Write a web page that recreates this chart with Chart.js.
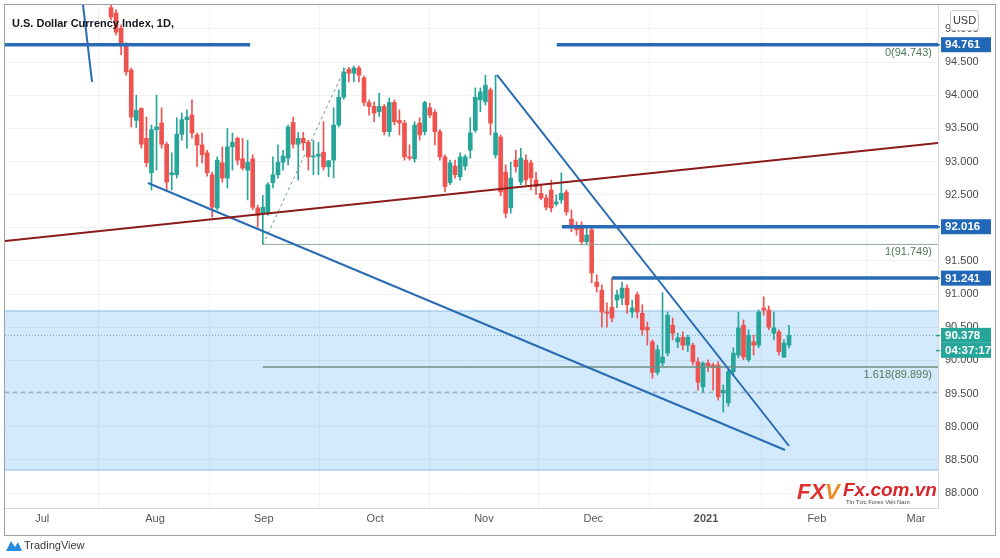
<!DOCTYPE html>
<html>
<head>
<meta charset="utf-8">
<script src="https://cdn.jsdelivr.net/npm/chart.js@4.4.1/dist/chart.umd.min.js"></script>
<style>
  html, body { margin: 0; padding: 0; background: #fff; }
  #wrap { width: 1000px; height: 558px; }
</style>
</head>
<body>
<div id="wrap"><canvas id="chart" width="1000" height="558"></canvas></div>
<script>
// DXY daily candles, bar 0 = first visible bar (late Jul 2020), last bar = 25 Jan 2021
const opens = [
  95.32, 95.24, 95.01, 94.76, 94.38, 93.62, 93.80, 93.35, 92.83, 93.48,
  93.58, 93.26, 92.80, 92.80, 93.41, 93.63, 93.70, 93.40, 93.25, 93.13,
  92.80, 92.30, 92.98, 92.75, 93.22, 93.35, 93.04, 92.87, 93.04, 92.30,
  92.22, 92.22, 92.68, 92.80, 92.99, 93.05, 93.59, 93.26, 93.35, 93.29,
  93.07, 93.08, 93.14, 92.92, 93.02, 93.55, 93.97, 94.39, 94.33, 94.41,
  94.26, 93.89, 93.83, 93.75, 93.83, 93.45, 93.89, 93.62, 93.58, 93.07,
  93.04, 93.58, 93.45, 93.81, 93.74, 93.45, 93.07, 92.68, 92.93, 92.77,
  92.93, 93.17, 93.47, 93.93, 93.90, 94.08, 93.10, 93.37, 92.84, 92.30,
  93.02, 92.69, 93.02, 92.98, 92.72, 92.52, 92.45, 92.57, 92.36, 92.42,
  92.54, 92.13, 92.01, 92.04, 91.79, 91.97, 91.18, 91.06, 90.73, 90.80,
  90.91, 90.94, 91.09, 90.73, 90.99, 90.71, 90.50, 90.28, 89.82, 89.96,
  90.11, 90.53, 90.28, 90.35, 90.23, 90.23, 89.98, 89.60, 89.96, 89.93,
  89.93, 89.51, 89.36, 89.83, 90.08, 90.53, 90.01, 90.28, 90.23, 90.79,
  90.76, 90.41, 90.43, 90.05, 90.23
];
const highs = [
  95.41, 95.29, 95.06, 94.79, 94.41, 94.00, 93.81, 93.67, 93.55, 94.00,
  93.81, 93.29, 93.13, 93.66, 93.73, 93.78, 93.93, 93.43, 93.43, 93.17,
  92.84, 93.07, 93.22, 93.50, 93.43, 93.37, 93.35, 93.32, 93.10, 92.34,
  92.49, 92.68, 93.07, 93.25, 93.17, 93.55, 93.67, 93.44, 93.44, 93.32,
  93.32, 93.29, 93.60, 93.02, 93.81, 94.08, 94.41, 94.42, 94.44, 94.44,
  94.29, 93.93, 93.90, 94.03, 93.86, 93.96, 93.93, 93.78, 93.62, 93.25,
  93.60, 93.66, 93.91, 93.88, 93.78, 93.48, 93.10, 93.02, 93.02, 93.13,
  93.10, 93.66, 94.11, 94.11, 94.30, 94.11, 94.30, 93.40, 92.95, 92.99,
  93.17, 93.20, 93.10, 93.02, 92.84, 92.65, 92.50, 92.72, 92.50, 92.83,
  92.57, 92.27, 92.09, 92.09, 92.00, 92.00, 91.29, 91.14, 90.87, 91.241,
  91.06, 91.18, 91.14, 90.91, 91.03, 90.84, 90.58, 90.31, 90.23, 91.02,
  90.73, 90.64, 90.41, 90.43, 90.38, 90.26, 90.04, 89.98, 90.01, 89.96,
  89.98, 89.63, 89.89, 90.19, 90.73, 90.61, 90.46, 90.38, 90.76, 90.96,
  90.82, 90.73, 90.46, 90.31, 90.53
];
const lows = [
  95.14, 94.91, 94.61, 94.30, 93.52, 93.51, 93.20, 92.92, 92.57, 92.87,
  93.20, 92.57, 92.57, 92.75, 93.32, 93.20, 93.35, 92.92, 92.98, 92.78,
  92.16, 92.27, 92.69, 92.60, 92.87, 92.95, 92.87, 92.42, 92.27, 92.01,
  91.749, 92.19, 92.60, 92.75, 92.87, 92.95, 93.20, 92.72, 93.17, 92.87,
  92.80, 92.80, 92.87, 92.77, 92.75, 93.52, 93.94, 94.20, 94.20, 94.20,
  93.84, 93.70, 93.60, 93.68, 93.40, 93.38, 93.55, 93.40, 93.02, 93.02,
  92.99, 93.32, 93.40, 93.66, 93.25, 93.02, 92.54, 92.65, 92.75, 92.72,
  92.87, 93.05, 93.44, 93.75, 93.85, 93.40, 93.05, 92.48, 92.15, 92.22,
  92.84, 92.65, 92.65, 92.57, 92.50, 92.42, 92.27, 92.24, 92.33, 92.37,
  92.19, 91.94, 91.89, 91.74, 91.74, 91.17, 91.03, 90.50, 90.50, 90.58,
  90.79, 90.84, 90.71, 90.65, 90.64, 90.38, 90.23, 89.73, 89.78, 89.92,
  90.07, 90.31, 90.19, 90.16, 90.13, 89.93, 89.55, 89.52, 89.83, 89.55,
  89.40, 89.22, 89.31, 89.78, 90.04, 90.01, 89.98, 90.08, 90.19, 90.68,
  90.46, 90.31, 90.08, 90.04, 90.19
];
const closes = [
  95.18, 94.95, 94.79, 94.35, 93.67, 93.77, 93.26, 92.98, 93.48, 93.52,
  93.26, 92.69, 92.83, 93.41, 93.63, 93.67, 93.43, 93.25, 93.10, 92.83,
  92.31, 93.02, 92.75, 93.22, 93.29, 93.02, 92.90, 92.99, 92.31, 92.19,
  92.31, 92.65, 92.80, 92.99, 93.08, 93.52, 93.26, 93.35, 93.28, 93.07,
  93.08, 93.11, 92.92, 93.01, 93.55, 93.97, 94.35, 94.33, 94.41, 94.30,
  93.89, 93.83, 93.73, 93.83, 93.45, 93.89, 93.60, 93.58, 93.07, 93.05,
  93.55, 93.40, 93.89, 93.70, 93.45, 93.07, 92.62, 92.98, 92.80, 93.07,
  93.07, 93.43, 93.97, 94.05, 94.15, 93.58, 93.43, 92.54, 92.22, 92.75,
  92.92, 93.05, 92.72, 92.75, 92.62, 92.45, 92.31, 92.30, 92.39, 92.52,
  92.24, 92.01, 91.97, 91.79, 91.89, 91.32, 91.11, 90.73, 90.71, 90.64,
  90.99, 91.09, 90.84, 90.79, 90.73, 90.46, 90.46, 89.82, 90.16, 90.05,
  90.68, 90.41, 90.34, 90.23, 90.35, 89.98, 89.67, 89.96, 89.92, 89.89,
  89.45, 89.55, 89.83, 90.11, 90.49, 90.05, 90.38, 90.23, 90.73, 90.76,
  90.50, 90.49, 90.13, 90.26, 90.378
];

// time axis (bar index units)
const xMin = -20.95, xMax = 163.44;
const monthTickPos = [-13.6, 8.7, 30.2, 52.2, 73.7, 95.3, 117.6, 139.5, 159.1];
const monthTickLabels = ["Jul", "Aug", "Sep", "Oct", "Nov", "Dec", "2021", "Feb", "Mar"];

// price axis
const yMin = 87.774, yMax = 95.36;
const priceTicks = [88, 88.5, 89, 89.5, 90, 90.5, 91, 91.5, 92, 92.5, 93, 93.5, 94, 94.5, 95];

// drawings
const levelValues = [94.761, 92.016, 91.241];
const levelStarts = [88.1, 89.1, 99];
const leftLevelEnd = 27.5;
const fibValues = [94.743, 91.749, 89.899];
const fibLabels = ["0(94.743)", "1(91.749)", "1.618(89.899)"];
const fibStart = 30;
const zoneTop = 90.745, zoneBottom = 88.347;
const dashedLevel = 89.52;
const lastPrice = 90.378;
const countdown = "04:37:17";
const redTrend = [[xMin, 91.80], [xMax, 93.28]];
const wedgeLow = [[7.31, 92.676], [133.2, 88.649]];
const wedgeHigh = [[76.28, 94.306], [134.0, 88.709]];
const oldTrend = [[-5.53, 95.36], [-3.75, 94.20]];
const fibConnector = [[30.04, 91.749], [46.25, 94.41]];

const UP = "#26a69a", DOWN = "#ef5350", BLUE = "#2a6cb4";
const FONT = "'Liberation Sans', Arial, sans-serif";

const candleColors = closes.map((c, i) => c >= opens[i] ? UP : DOWN);

function seg(points, color, width, dash, order, extra) {
  return Object.assign({
    type: "line",
    data: points.map(p => ({ x: p[0], y: p[1] })),
    borderColor: color,
    borderWidth: width,
    borderDash: dash || [],
    pointRadius: 0,
    fill: false,
    tension: 0,
    order: order
  }, extra || {});
}

const datasets = [
  // zone box
  seg([[xMin, zoneTop], [xMax, zoneTop]], "#8dbbe3", 1, null, 20,
      { fill: { value: zoneBottom }, backgroundColor: "rgba(33,150,243,0.2)" }),
  seg([[xMin, zoneBottom], [xMax, zoneBottom]], "#8dbbe3", 1, null, 19),
  seg([[xMin, dashedLevel], [xMax, dashedLevel]], "#7f98b0", 1, [4, 4], 18),
  seg([[xMin, lastPrice], [xMax, lastPrice]], "#6aa8a0", 1, [1, 2], 18),
  // candles
  {
    type: "bar",
    data: lows.map((l, i) => ({ x: i, y: [l, highs[i]] })),
    backgroundColor: candleColors,
    barThickness: 1,
    grouped: false,
    order: 6
  },
  {
    type: "bar",
    data: opens.map((o, i) => ({ x: i, y: [o, closes[i]] })),
    backgroundColor: candleColors,
    barThickness: 4,
    minBarLength: 1,
    grouped: false,
    order: 5
  },
  // fib lines
  seg([[fibStart, fibValues[1]], [xMax, fibValues[1]]], "#8fa89a", 1, null, 3),
  seg([[fibStart, fibValues[2]], [xMax, fibValues[2]]], "#6f8f80", 1.5, null, 3),
  seg(fibConnector, "#7a9a85", 1, [3, 3], 3),
  // trend lines
  seg(redTrend, "#8b1c1c", 2, null, 2),
  seg(wedgeLow, BLUE, 2, null, 2),
  seg(wedgeHigh, BLUE, 2, null, 2),
  seg(oldTrend, BLUE, 2, null, 2),
  // horizontal levels
  seg([[xMin, levelValues[0]], [leftLevelEnd, levelValues[0]]], BLUE, 3.5, null, 1)
];
levelValues.forEach((v, i) => {
  datasets.push(seg([[levelStarts[i], v], [xMax, v]], BLUE, 3.5, null, 1));
});

const overlay = {
  id: "overlay",
  afterDraw(chart) {
    const ctx = chart.ctx;
    const ys = chart.scales.y;
    const area = chart.chartArea;
    ctx.save();

    // title
    ctx.fillStyle = "#131722";
    ctx.font = "bold 11px " + FONT;
    ctx.textBaseline = "middle";
    ctx.textAlign = "left";
    ctx.fillText("U.S. Dollar Currency Index, 1D,", 12, 24);

    // fib labels
    ctx.font = "11px " + FONT;
    ctx.fillStyle = "#4f7a58";
    ctx.textAlign = "right";
    ctx.textBaseline = "top";
    fibValues.forEach((v, i) => {
      ctx.fillText(fibLabels[i], area.right - 6, ys.getPixelForValue(v) + 2);
    });

    // price boxes on the axis
    function box(v, text, color, dy) {
      const y = ys.getPixelForValue(v) + (dy || 0);
      ctx.fillStyle = color;
      ctx.fillRect(area.right + 3, y - 7.5, 50, 15);
      ctx.fillRect(area.right - 2, y - 0.5, 4, 1.5);
      ctx.fillStyle = "#fff";
      ctx.font = "bold 11.5px " + FONT;
      ctx.textAlign = "left";
      ctx.textBaseline = "middle";
      ctx.fillText(text, area.right + 7, y + 0.5);
    }
    levelValues.forEach(v => box(v, v.toFixed(3), "#2167b8"));
    box(lastPrice, lastPrice.toFixed(3), UP);
    box(lastPrice, countdown, UP, 15);

    // USD badge
    ctx.fillStyle = "#fff";
    ctx.strokeStyle = "#c4c7cf";
    ctx.lineWidth = 1;
    ctx.beginPath();
    ctx.roundRect(950.5, 10.5, 28, 20, 3);
    ctx.fill();
    ctx.stroke();
    ctx.fillStyle = "#333";
    ctx.font = "11px " + FONT;
    ctx.textAlign = "center";
    ctx.textBaseline = "middle";
    ctx.fillText("USD", 964.5, 21);

    // watermark
    ctx.textAlign = "left";
    ctx.textBaseline = "alphabetic";
    ctx.font = "italic bold 22px " + FONT;
    ctx.fillStyle = "#e0312c";
    ctx.fillText("FX", 797, 499);
    ctx.fillStyle = "#f08a24";
    ctx.fillText("V", 825, 499);
    ctx.fillStyle = "#d8262a";
    ctx.font = "italic bold 19px " + FONT;
    ctx.fillText("Fx.com.vn", 843, 496);
    ctx.fillStyle = "#444";
    ctx.font = "6px " + FONT;
    ctx.fillText("Tin Tức Forex Việt Nam", 846, 504);

    // frame
    ctx.strokeStyle = "#9ea1a7";
    ctx.lineWidth = 1;
    ctx.strokeRect(4.5, 4.5, 991, 531);

    // footer logo
    ctx.fillStyle = "#2a8ce0";
    ctx.beginPath();
    ctx.moveTo(6, 551); ctx.lineTo(11, 541); ctx.lineTo(15, 547); ctx.lineTo(18, 542); ctx.lineTo(22, 551);
    ctx.closePath();
    ctx.fill();
    ctx.fillStyle = "#3a3a3a";
    ctx.font = "11px " + FONT;
    ctx.textBaseline = "middle";
    ctx.fillText("TradingView", 24, 546);
    ctx.restore();
  }
};

function noPad(s) {
  s.paddingTop = 0; s.paddingBottom = 0; s.paddingLeft = 0; s.paddingRight = 0;
}

new Chart(document.getElementById("chart"), {
  type: "bar",
  data: { datasets: datasets },
  options: {
    responsive: false,
    animation: false,
    layout: { padding: { left: 5, top: 5, right: 5, bottom: 23 } },
    plugins: { legend: { display: false }, tooltip: { enabled: false } },
    scales: {
      x: {
        type: "linear",
        min: xMin,
        max: xMax,
        offset: false,
        afterFit: s => { s.height = 27; noPad(s); },
        afterBuildTicks: s => { s.ticks = monthTickPos.map(v => ({ value: v })); },
        grid: { color: "#f0f2f6", drawTicks: false },
        border: { color: "#d3d6dd" },
        ticks: {
          autoSkip: false,
          maxRotation: 0,
          padding: 4,
          color: "#555",
          font: c => ({ family: FONT, size: 11, weight: c.index === 6 ? "bold" : "normal" }),
          callback: (v, i) => monthTickLabels[i]
        }
      },
      y: {
        position: "right",
        min: yMin,
        max: yMax,
        afterFit: s => { s.width = 57; noPad(s); },
        afterBuildTicks: s => { s.ticks = priceTicks.map(v => ({ value: v })); },
        grid: { color: "#f0f2f6", drawTicks: false },
        border: { color: "#d3d6dd" },
        ticks: {
          autoSkip: false,
          padding: 7,
          color: "#4a4a4a",
          font: { family: FONT, size: 11 },
          callback: v => Number(v).toFixed(3)
        }
      }
    }
  },
  plugins: [overlay]
});
</script>
</body>
</html>
